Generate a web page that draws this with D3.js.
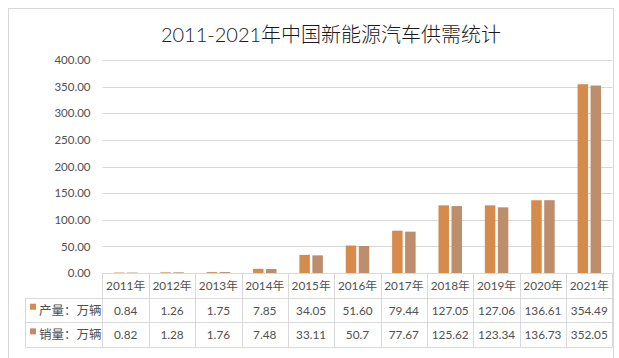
<!DOCTYPE html>
<html><head><meta charset="utf-8">
<script src="https://cdn.jsdelivr.net/npm/d3@7"></script>
<style>
html,body{margin:0;padding:0;background:#fff;}
text{font-family:Lato,"Noto Sans CJK SC",sans-serif;}
</style></head>
<body>
<svg id="c" width="619" height="358"></svg>
<script>
const title = "2011-2021年中国新能源汽车供需统计";
const years = ["2011年","2012年","2013年","2014年","2015年","2016年","2017年","2018年","2019年","2020年","2021年"];
const seriesNames = ["产量：万辆","销量：万辆"];
const production = [0.84,1.26,1.75,7.85,34.05,51.60,79.44,127.05,127.06,136.61,354.49];
const sales = [0.82,1.28,1.76,7.48,33.11,50.7,77.67,125.62,123.34,136.73,352.05];
const productionLabels = ["0.84","1.26","1.75","7.85","34.05","51.60","79.44","127.05","127.06","136.61","354.49"];
const salesLabels = ["0.82","1.28","1.76","7.48","33.11","50.7","77.67","125.62","123.34","136.73","352.05"];
const yTicks = [0,50,100,150,200,250,300,350,400];
const colors = ["#D78B4B","#BD8D6C"];

(function(){
const svg = d3.select("#c");
svg.append("rect").attr("x",8.5).attr("y",8.5).attr("width",605).attr("height",360)
  .attr("fill","#fff").attr("stroke","#d9d9d9");

svg.append("text").attr("x",331).attr("y",42).attr("text-anchor","middle")
  .attr("font-size",20).attr("font-weight",300).attr("fill","#1a1a1a").text(title);

const pL=102.5, pR=612.5, pT=60, pB=273;
const y = d3.scaleLinear().domain([0,400]).range([pB,pT]);
const x0 = d3.scaleBand().domain(years).range([pL,pR]).padding(0);
const barW=10.5, gap=2.5;
const x1 = d3.scaleBand().domain(seriesNames).range([0,barW*2+gap]).paddingInner(gap/(barW+gap));

svg.append("g").selectAll("line").data(yTicks.filter(d=>d>0)).join("line")
  .attr("x1",pL).attr("x2",pR).attr("y1",d=>Math.round(y(d))+0.5).attr("y2",d=>Math.round(y(d))+0.5)
  .attr("stroke","#d9d9d9");

const yAxis = d3.axisLeft(y).tickValues(yTicks).tickFormat(d3.format(".2f")).tickSize(0).tickPadding(12);
const ga = svg.append("g").attr("transform",`translate(${pL},0)`).call(yAxis);
ga.select(".domain").remove();
ga.selectAll("text").attr("font-size",11.5).attr("fill","#505050").attr("font-family",'Lato,"Noto Sans CJK SC",sans-serif');

const data = years.map((yr,i)=>({yr, vals:[production[i],sales[i]]}));
const groups = svg.append("g").selectAll("g").data(data).join("g")
  .attr("transform",d=>`translate(${x0(d.yr)+(x0.bandwidth()-(barW*2+gap))/2},0)`);
groups.selectAll("rect").data(d=>d.vals.map((v,j)=>({v,name:seriesNames[j],j}))).join("rect")
  .attr("x",d=>x1(d.name)).attr("width",x1.bandwidth())
  .attr("y",d=>y(d.v)).attr("height",d=>pB-y(d.v))
  .attr("fill",d=>colors[d.j]);

const rowH=24.7;
const tbl = svg.append("g").attr("stroke","#d9d9d9").attr("fill","none");
const legL=25.5;
tbl.append("line").attr("x1",pL).attr("x2",pR).attr("y1",pB+0.5).attr("y2",pB+0.5);
[1,2,3].forEach(k=>{
  const yy=Math.round(pB+rowH*k)+0.5;
  tbl.append("line").attr("x1",legL).attr("x2",pR).attr("y1",yy).attr("y2",yy);
});
years.forEach(yr=>{
  const xx=Math.round(x0(yr))+0.5;
  tbl.append("line").attr("x1",xx).attr("x2",xx).attr("y1",pB).attr("y2",pB+rowH*3);
});
tbl.append("line").attr("x1",pR).attr("x2",pR).attr("y1",pB).attr("y2",pB+rowH*3);
tbl.append("line").attr("x1",legL).attr("x2",legL).attr("y1",pB+rowH).attr("y2",pB+rowH*3);

const txt = svg.append("g").attr("font-size",11.8).attr("fill","#505050");
years.forEach((yr,i)=>{
  const cx = x0(yr)+x0.bandwidth()/2;
  txt.append("text").attr("x",cx).attr("y",pB+rowH*0.5+4.5).attr("text-anchor","middle").text(yr);
  txt.append("text").attr("x",cx).attr("y",pB+rowH*1.5+4.5).attr("text-anchor","middle").text(productionLabels[i]);
  txt.append("text").attr("x",cx).attr("y",pB+rowH*2.5+4.5).attr("text-anchor","middle").text(salesLabels[i]);
});
seriesNames.forEach((n,j)=>{
  const ry = pB+rowH*(j+1);
  svg.append("rect").attr("x",30).attr("y",ry+6).attr("width",6).attr("height",6).attr("fill",colors[j]);
  svg.append("text").attr("x",39).attr("y",ry+rowH*0.5+4.5).attr("font-size",12.5).attr("fill","#505050").text(n);
});
})();
</script>
</body></html>
